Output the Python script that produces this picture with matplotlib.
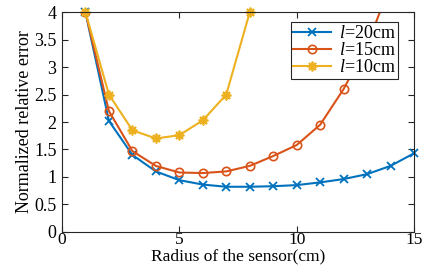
import numpy as np
import matplotlib.pyplot as plt

plt.rcParams['font.family'] = ['Liberation Serif', 'DejaVu Serif']
plt.rcParams['mathtext.fontset'] = 'custom'
plt.rcParams['mathtext.it'] = 'Liberation Serif:italic'
plt.rcParams['mathtext.rm'] = 'Liberation Serif'

# data
r20 = [1, 2, 3, 4, 5, 6, 7, 8, 9, 10, 11, 12, 13, 14, 15]
e20 = [4.0, 2.02, 1.4, 1.1, 0.94, 0.86, 0.82, 0.82, 0.83, 0.85, 0.9, 0.96, 1.05, 1.2, 1.43]
r15 = [1, 2, 3, 4, 5, 6, 7, 8, 9, 10, 11, 12, 13, 14]
e15 = [4.0, 2.2, 1.47, 1.2, 1.08, 1.07, 1.1, 1.2, 1.38, 1.58, 1.95, 2.6, 3.4, 4.5]
r10 = [1, 2, 3, 4, 5, 6, 7, 8]
e10 = [4.0, 2.5, 1.85, 1.7, 1.76, 2.03, 2.5, 4.0]
labels = ['$l$=20cm', '$l$=15cm', '$l$=10cm']

fig = plt.figure(figsize=(4.29, 2.67), dpi=100)
ax = fig.add_axes([0.1445, 0.132, 0.8205, 0.822])

ax.plot(r20, e20, color='#0072BD', marker='x', ms=6, mew=1.3, lw=1.5, label=labels[0], clip_on=False)
ax.plot(r15, e15, color='#D95319', marker='o', ms=6, mfc='none', mew=1.2, lw=1.5, label=labels[1])
ax.plot(r10, e10, color='#EDB120', marker=(8, 2, 0), ms=7, mew=1.3, lw=1.5, label=labels[2], clip_on=False)

ax.set_xlim(0, 15)
ax.set_ylim(0, 4)
ax.set_xticks([0, 5, 10, 15])
ax.set_yticks([0, 0.5, 1, 1.5, 2, 2.5, 3, 3.5, 4])
ax.set_yticklabels(['0', '0.5', '1', '1.5', '2', '2.5', '3', '3.5', '4'])
ax.tick_params(direction='in', top=True, right=True, labelsize=13, length=4, width=0.8,
               colors='#262626', labelcolor='black')
ax.tick_params(axis='x', pad=0.3, labelsize=12.5)
ax.tick_params(axis='y', pad=4)
for s in ax.spines.values():
    s.set_color('#262626')
    s.set_linewidth(0.8)

ax.set_xlabel('Radius of the sensor(cm)', fontsize=12.5, labelpad=0)
ax.set_ylabel('Normalized relative error', fontsize=13, labelpad=1)

leg = ax.legend(loc='upper right', bbox_to_anchor=(0.955, 0.955), fontsize=13, frameon=True,
                fancybox=False, edgecolor='#262626', framealpha=1, borderpad=0.15,
                labelspacing=0.0, handlelength=2.1, handletextpad=0.4, borderaxespad=0)
leg.get_frame().set_linewidth(0.8)

fig.savefig('out.png', dpi=100)
